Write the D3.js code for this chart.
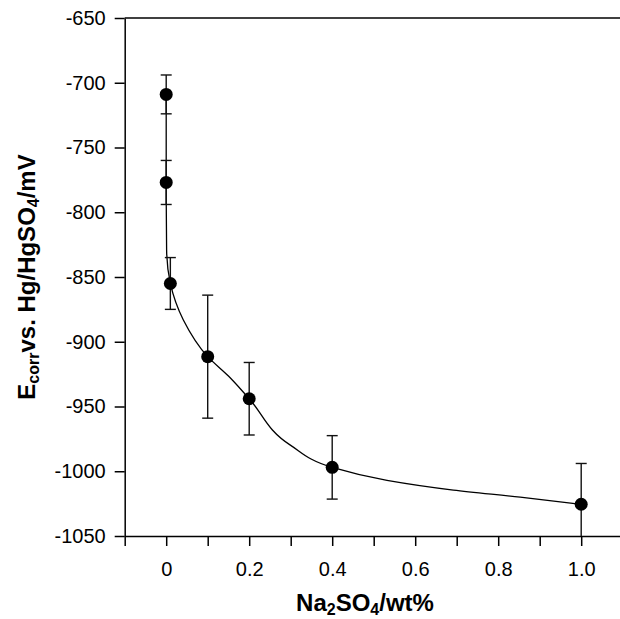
<!DOCTYPE html>
<html>
<head>
<meta charset="utf-8">
<script src="https://cdn.jsdelivr.net/npm/d3@7"></script>
<style>
  body { margin: 0; background: #fff; }
  text { font-family: "Liberation Sans", Arial, sans-serif; }
</style>
</head>
<body>
<div id="chart"></div>
<script>
// Na2SO4 concentration vs corrosion potential, with error bars
var conc = [0, 0, 0.01, 0.1, 0.2, 0.4, 1.0];
var ecorr = [-709, -777, -855, -911.5, -944, -997, -1025.5];
var errBar = [15, 17, 20, 47.5, 28, 24.5, 31.5];

// fitted curve
var fitX = [0, 0, 0.001, 0.01, 0.041, 0.1, 0.15, 0.2, 0.3, 0.4, 0.532, 0.692, 0.853, 1.0];
var fitY = [-709, -777, -829, -855, -883, -911.5, -926.5, -944, -980, -997, -1007, -1014.5, -1020, -1025.5];

var xTicks = [-0.1, 0, 0.1, 0.2, 0.3, 0.4, 0.5, 0.6, 0.7, 0.8, 0.9, 1.0];
var xTickLabels = ["0", "0.2", "0.4", "0.6", "0.8", "1.0"];
var yTicks = [-650, -700, -750, -800, -850, -900, -950, -1000, -1050];

var svgWidth = 620;
var svgHeight = 619;

var margin = { top: 18, right: 0, bottom: 83, left: 124.7 };
var width = svgWidth - margin.left - margin.right;
var height = svgHeight - margin.top - margin.bottom;

var svg = d3.select("#chart")
  .append("svg")
  .attr("width", svgWidth)
  .attr("height", svgHeight);

var chartGroup = svg.append("g")
  .attr("transform", `translate(${margin.left}, ${margin.top})`);

var xScale = d3.scaleLinear()
  .domain([-0.1, -0.1 + width / 415])
  .range([0, width]);

var yScale = d3.scaleLinear()
  .domain([-1050, -650])
  .range([height, 0]);

// axes
var bottomAxis = d3.axisBottom(xScale)
  .tickValues(xTicks)
  .tickSize(10)
  .tickSizeOuter(0)
  .tickPadding(16)
  .tickFormat(function(d) {
    var lab = d3.format(".1f")(d);
    if (lab === "0.0") lab = "0";
    return xTickLabels.indexOf(lab) >= 0 ? lab : "";
  });

var leftAxis = d3.axisLeft(yScale)
  .tickValues(yTicks)
  .tickSize(10)
  .tickSizeOuter(0)
  .tickPadding(9)
  .tickFormat(d => String(d));

var xAxisG = chartGroup.append("g")
  .attr("transform", `translate(0, ${height})`)
  .call(bottomAxis);

var yAxisG = chartGroup.append("g")
  .call(leftAxis);

[xAxisG, yAxisG].forEach(function(g) {
  g.selectAll("path, line").attr("stroke", "#000").attr("stroke-width", 1.5);
  g.selectAll("text")
    .attr("fill", "#000")
    .style("font-size", "20px")
    .style("font-family", "'Liberation Sans', Arial, sans-serif");
});

// top frame line
chartGroup.append("line")
  .attr("x1", 0)
  .attr("x2", width)
  .attr("y1", 0)
  .attr("y2", 0)
  .attr("stroke", "#000")
  .attr("stroke-width", 1.5);

// fitted curve
var fitData = fitX.map(function(x, i) { return { x: x, y: fitY[i] }; });
var line = d3.line()
  .x(d => xScale(d.x))
  .y(d => yScale(d.y))
  .curve(d3.curveMonotoneY);

chartGroup.append("path")
  .datum(fitData)
  .attr("d", line)
  .attr("fill", "none")
  .attr("stroke", "#000")
  .attr("stroke-width", 1.3);

// error bars
var points = conc.map(function(c, i) { return { x: c, y: ecorr[i], e: errBar[i] }; });
var yMin = yScale.domain()[0];

var errG = chartGroup.selectAll(".err")
  .data(points)
  .enter()
  .append("g")
  .attr("class", "err")
  .attr("stroke", "#111")
  .attr("stroke-width", 1.4);

errG.append("line")
  .attr("x1", d => xScale(d.x))
  .attr("x2", d => xScale(d.x))
  .attr("y1", d => yScale(d.y + d.e))
  .attr("y2", d => yScale(Math.max(d.y - d.e, yMin)));

errG.append("line")
  .attr("x1", d => xScale(d.x) - 5.5)
  .attr("x2", d => xScale(d.x) + 5.5)
  .attr("y1", d => yScale(d.y + d.e))
  .attr("y2", d => yScale(d.y + d.e));

errG.filter(d => d.y - d.e >= yMin)
  .append("line")
  .attr("x1", d => xScale(d.x) - 5.5)
  .attr("x2", d => xScale(d.x) + 5.5)
  .attr("y1", d => yScale(d.y - d.e))
  .attr("y2", d => yScale(d.y - d.e));

// markers
chartGroup.selectAll("circle")
  .data(points)
  .enter()
  .append("circle")
  .attr("cx", d => xScale(d.x))
  .attr("cy", d => yScale(d.y))
  .attr("r", 6.5)
  .attr("fill", "#000");

// axis titles
var xTitle = chartGroup.append("text")
  .attr("x", 365 - margin.left)
  .attr("y", 611 - margin.top)
  .attr("text-anchor", "middle")
  .style("font-size", "24px")
  .style("font-weight", "bold");
xTitle.append("tspan").text("Na");
xTitle.append("tspan").attr("dy", 4).style("font-size", "16px").text("2");
xTitle.append("tspan").attr("dy", -4).text("SO");
xTitle.append("tspan").attr("dy", 4).style("font-size", "16px").text("4");
xTitle.append("tspan").attr("dy", -4).text("/wt%");

var yTitle = svg.append("text")
  .attr("transform", `translate(35, ${margin.top + height / 2}) rotate(-90)`)
  .attr("text-anchor", "middle")
  .style("font-size", "24px")
  .style("font-weight", "bold");
yTitle.append("tspan").text("E");
yTitle.append("tspan").attr("dy", 4).style("font-size", "16px").text("corr");
yTitle.append("tspan").attr("dy", -4).text("vs. Hg/HgSO");
yTitle.append("tspan").attr("dy", 4).style("font-size", "16px").text("4");
yTitle.append("tspan").attr("dy", -4).text("/mV");
</script>
</body>
</html>
